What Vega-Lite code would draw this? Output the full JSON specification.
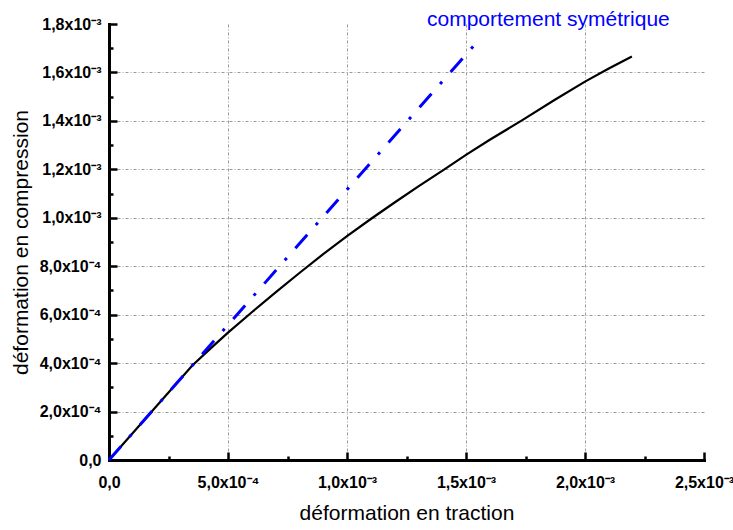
{
  "$schema": "https://vega.github.io/schema/vega-lite/v6.json",
  "width": 595,
  "height": 436,
  "autosize": "none",
  "padding": {"left": 109, "top": 24, "right": 29, "bottom": 70},
  "background": "white",
  "config": {
    "view": {"stroke": null},
    "axis": {
      "labelFont": "Liberation Sans",
      "labelFontWeight": "bold",
      "labelFontSize": 16,
      "labelColor": "black",
      "titleFont": "Liberation Sans",
      "titleFontWeight": "normal",
      "titleFontSize": 21,
      "titleColor": "black"
    }
  },
  "datasets": {
    "exp": [
      {"t": 0, "c": 0},
      {"t": 0.00035, "c": 0.00039},
      {"t": 0.000426, "c": 0.00046},
      {"t": 0.0005, "c": 0.000526},
      {"t": 0.0006, "c": 0.00061},
      {"t": 0.0007, "c": 0.000692},
      {"t": 0.0008, "c": 0.000772},
      {"t": 0.0009, "c": 0.00085},
      {"t": 0.001, "c": 0.000924},
      {"t": 0.0011, "c": 0.000995},
      {"t": 0.0012, "c": 0.001063},
      {"t": 0.0013, "c": 0.00113},
      {"t": 0.001406, "c": 0.001198},
      {"t": 0.0015, "c": 0.00126},
      {"t": 0.0016, "c": 0.001322},
      {"t": 0.001735, "c": 0.001402},
      {"t": 0.00187, "c": 0.001485},
      {"t": 0.002, "c": 0.001562},
      {"t": 0.0021, "c": 0.001616},
      {"t": 0.002197, "c": 0.001666}
    ],
    "sym": [
      {"t": 0, "c": 0},
      {"t": 0.001535, "c": 0.001713}
    ],
    "lab": [
      {"t": 0.001846, "c": 0.00179, "text": "comportement symétrique"}
    ]
  },
  "layer": [
    {
      "data": {"name": "exp"},
      "mark": {"type": "line", "color": "black", "strokeWidth": 2.2},
      "encoding": {
        "x": {
          "field": "t", "type": "quantitative",
          "scale": {"domain": [0, 0.0025], "nice": false, "zero": true},
          "axis": {
            "orient": "bottom",
            "title": "déformation en traction",
            "values": [0, 0.0005, 0.001, 0.0015, 0.002, 0.0025],
            "labelExpr": "datum.value == 0 ? '0,0' : (datum.value < 0.00099 ? replace(format(datum.value*10000,'.1f'),'.',',') + 'x10⁻⁴' : replace(format(datum.value*1000,'.1f'),'.',',') + 'x10⁻³')",
            "labelPadding": 14,
            "labelFlush": false,
            "labelOverlap": false,
            "ticks": false,
            "grid": false,
            "domainColor": "black",
            "domainWidth": 3,
            "domainCap": "square",
            "titlePadding": 12
          }
        },
        "y": {
          "field": "c", "type": "quantitative",
          "scale": {"domain": [0, 0.0018], "nice": false, "zero": true},
          "axis": {
            "orient": "left",
            "title": "déformation en compression",
            "values": [0, 0.0002, 0.0004, 0.0006, 0.0008, 0.001, 0.0012, 0.0014, 0.0016, 0.0018],
            "labelExpr": "datum.value == 0 ? '0,0' : (datum.value < 0.00099 ? replace(format(datum.value*10000,'.1f'),'.',',') + 'x10⁻⁴' : replace(format(datum.value*1000,'.1f'),'.',',') + 'x10⁻³')",
            "labelPadding": 8,
            "labelFlush": false,
            "labelOverlap": false,
            "ticks": false,
            "grid": false,
            "domainColor": "black",
            "domainWidth": 3,
            "domainCap": "square",
            "titlePadding": 8
          }
        }
      }
    },
    {
      "data": {"name": "sym"},
      "mark": {"type": "line", "color": "#0000ff", "strokeWidth": 3, "strokeDash": [18, 13, 3, 13]},
      "encoding": {
        "x": {
          "field": "t", "type": "quantitative",
          "scale": {"domain": [0, 0.0025], "nice": false, "zero": true},
          "axis": {
            "orient": "bottom",
            "title": null,
            "values": [0, 0.00025, 0.0005, 0.00075, 0.001, 0.00125, 0.0015, 0.00175, 0.002, 0.00225, 0.0025],
            "labels": false,
            "domain": false,
            "grid": false,
            "ticks": true,
            "tickSize": -8,
            "tickWidth": 2.5,
            "tickColor": "black",
            "tickDash": {"condition": {"test": "abs(datum.value/0.0005 - round(datum.value/0.0005)) > 0.1", "value": [4, 30]}, "value": [8, 30]}
          }
        },
        "y": {
          "field": "c", "type": "quantitative",
          "scale": {"domain": [0, 0.0018], "nice": false, "zero": true},
          "axis": {
            "orient": "left",
            "title": null,
            "values": [0, 0.0001, 0.0002, 0.0003, 0.0004, 0.0005, 0.0006, 0.0007, 0.0008, 0.0009, 0.001, 0.0011, 0.0012, 0.0013, 0.0014, 0.0015, 0.0016, 0.0017, 0.0018],
            "labels": false,
            "domain": false,
            "grid": false,
            "ticks": true,
            "tickSize": -8,
            "tickWidth": 2.5,
            "tickColor": "black",
            "tickDash": {"condition": {"test": "abs(datum.value/0.0002 - round(datum.value/0.0002)) > 0.1", "value": [4, 30]}, "value": [8, 30]}
          }
        }
      }
    },
    {
      "data": {"name": "lab"},
      "mark": {"type": "text", "color": "#0000ff", "font": "Liberation Sans", "fontSize": 21, "align": "center", "baseline": "alphabetic"},
      "encoding": {
        "x": {
          "field": "t", "type": "quantitative",
          "scale": {"domain": [0, 0.0025], "nice": false, "zero": true},
          "axis": {
            "orient": "bottom",
            "title": null,
            "values": [0.0005, 0.001, 0.0015, 0.002],
            "labels": false,
            "domain": false,
            "ticks": false,
            "grid": true,
            "gridColor": "#9a9a9a",
            "gridWidth": 1,
            "gridDash": [3, 2, 1, 2]
          }
        },
        "y": {
          "field": "c", "type": "quantitative",
          "scale": {"domain": [0, 0.0018], "nice": false, "zero": true},
          "axis": {
            "orient": "left",
            "title": null,
            "values": [0.0002, 0.0004, 0.0006, 0.0008, 0.001, 0.0012, 0.0014, 0.0016],
            "labels": false,
            "domain": false,
            "ticks": false,
            "grid": true,
            "gridColor": "#9a9a9a",
            "gridWidth": 1,
            "gridDash": [3, 2, 1, 2]
          }
        },
        "text": {"field": "text"}
      }
    }
  ],
  "resolve": {"scale": {"x": "independent", "y": "independent"}}
}
